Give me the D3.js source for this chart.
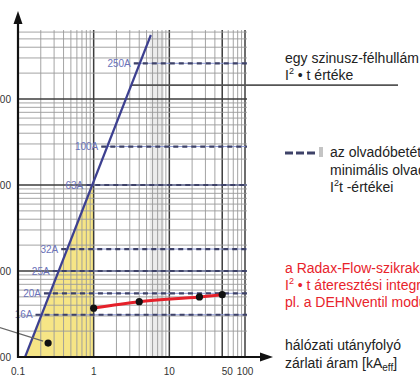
<!DOCTYPE html>
<html><head><meta charset="utf-8">
<script src="https://cdn.jsdelivr.net/npm/d3@7"></script>
<style>
body{margin:0;background:#fff}
svg{display:block}
text{font-family:"Liberation Sans",Arial,sans-serif}
</style>
</head><body>
<svg id="c" width="420" height="376"></svg>
<script>
// Fuse ratings and their minimum melting I²t values (A²s)
const fuseLabels = ["250A", "100A", "63A", "32A", "25A", "20A", "16A"];
const fuseI2t = [260000, 28000, 10000, 1800, 1000, 550, 310];

// I²t of one sine half-wave vs. prospective current (kA)
const sineCurrent = [0.124, 5.7];
const sineI2t = [100, 555000];
const sineLeaderI2t = 145000;

// Let-through integral of the Radax-Flow spark gap
const radaxCurrent = [1, 4, 25, 50];
const radaxI2t = [370, 440, 500, 530];

// Single marked point inside the shaded area
const markCurrent = [0.25];
const markI2t = [145];

// Axis ticks
const xTicks = [0.1, 1, 10, 50, 100];
const xTickLabels = ["0.1", "1", "10", "50", "100"];
const yTicks = [100, 1000, 10000, 100000];
const yTickLabels = ["100", "1000", "10000", "100000"];

const svg = d3.select("#c");
const x = d3.scaleLog().domain([0.1, 100]).range([18, 245]);
const y = d3.scaleLog().domain([100, 1e6]).range([357, 13]);
const gridTop = 600000;

// log-linear helpers along the half-wave line
const sLog = sineCurrent.map(Math.log10), vLog = sineI2t.map(Math.log10);
const sineAt = I => Math.pow(10, vLog[0] + (Math.log10(I) - sLog[0]) * (vLog[1] - vLog[0]) / (sLog[1] - sLog[0]));
const currentAt = v => Math.pow(10, sLog[0] + (Math.log10(v) - vLog[0]) * (sLog[1] - sLog[0]) / (vLog[1] - vLog[0]));

// light shaded column
svg.append("rect")
  .attr("x", x(5.5)).attr("y", y(gridTop))
  .attr("width", x(8.5) - x(5.5)).attr("height", y(100) - y(gridTop))
  .attr("fill", "#ececec");

// yellow area below the half-wave line up to 1 kA
svg.append("path")
  .attr("d", d3.line()([
    [x(sineCurrent[0]), y(100)],
    [x(1), y(sineAt(1))],
    [x(1), y(100)]
  ]) + "Z")
  .attr("fill", "#f6e586");

// grid
const vLines = [];
for (let e = -1; e <= 1; e++) for (let k = 1; k <= 9; k++) vLines.push(k * Math.pow(10, e));
vLines.push(100);
const vMajor = new Set([1, 10, 50, 100]);
const hLines = [];
for (let e = 2; e <= 5; e++) for (let k = 1; k <= 9; k++) {
  const v = k * Math.pow(10, e);
  if (v <= gridTop) hLines.push(v);
}
const g = svg.append("g");
g.selectAll(".vl").data(vLines.filter(v => v > 0.1)).join("line")
  .attr("x1", d => x(d)).attr("x2", d => x(d))
  .attr("y1", y(gridTop) - 2).attr("y2", y(100))
  .attr("stroke", d => vMajor.has(+d.toFixed(3)) ? "#3c3c3c" : "#9a9a9a")
  .attr("stroke-width", d => vMajor.has(+d.toFixed(3)) ? 1.5 : 0.9);
g.selectAll(".hl").data(hLines).join("line")
  .attr("x1", x(0.1)).attr("x2", x(100) + 2)
  .attr("y1", d => y(d)).attr("y2", d => y(d))
  .attr("stroke", d => yTicks.includes(d) ? "#3c3c3c" : "#9a9a9a")
  .attr("stroke-width", d => yTicks.includes(d) ? 1.5 : 0.9);

// leader from the half-wave legend to its line
svg.append("line")
  .attr("x1", x(currentAt(sineLeaderI2t))).attr("x2", 398)
  .attr("y1", y(sineLeaderI2t)).attr("y2", y(sineLeaderI2t))
  .attr("stroke", "#555").attr("stroke-width", 1.6);

// fuse levels: label + dashed line
const fuse = svg.append("g");
fuseLabels.forEach((lab, i) => {
  const yy = y(fuseI2t[i]);
  const xe = x(currentAt(fuseI2t[i])) - 9;
  fuse.append("text").attr("x", xe).attr("y", yy).attr("dy", "0.35em")
    .attr("text-anchor", "end").attr("font-size", 10)
    .attr("fill", "#6a72b8").text(lab);
  fuse.append("line").attr("x1", xe + 3).attr("x2", x(100) + 2)
    .attr("y1", yy).attr("y2", yy)
    .attr("stroke", "#8e9ad6").attr("stroke-width", 1);
  fuse.append("line").attr("x1", xe + 3).attr("x2", x(100) + 2)
    .attr("y1", yy).attr("y2", yy)
    .attr("stroke", "#3e4268").attr("stroke-width", 2.2)
    .attr("stroke-dasharray", "5 4");
});

// half-wave I²t line
svg.append("line")
  .attr("x1", x(sineCurrent[0])).attr("y1", y(sineI2t[0]))
  .attr("x2", x(sineCurrent[1])).attr("y2", y(sineI2t[1]))
  .attr("stroke", "#3d4090").attr("stroke-width", 2.2);

// Radax-Flow let-through curve
const radax = radaxCurrent.map((c, i) => [x(c), y(radaxI2t[i])]);
svg.append("path").attr("d", d3.line().curve(d3.curveMonotoneX)(radax))
  .attr("fill", "none").attr("stroke", "#e5202a").attr("stroke-width", 3);
svg.selectAll(".rd").data(radax).join("circle")
  .attr("cx", d => d[0]).attr("cy", d => d[1]).attr("r", 3.6).attr("fill", "#111");

// marked point with leader from the left edge
const mk = [x(markCurrent[0]), y(markI2t[0])];
svg.append("line").attr("x1", -2).attr("y1", mk[1] - 16).attr("x2", mk[0] - 5).attr("y2", mk[1] - 2)
  .attr("stroke", "#666").attr("stroke-width", 1.2);
svg.append("circle").attr("cx", mk[0]).attr("cy", mk[1]).attr("r", 3.6).attr("fill", "#111");

// axes with arrow heads
svg.append("line").attr("x1", x(0.1)).attr("x2", x(0.1)).attr("y1", y(100) + 1).attr("y2", 20)
  .attr("stroke", "#111").attr("stroke-width", 2.2);
svg.append("path").attr("d", `M${x(0.1)},11 L${x(0.1) - 4.5},24 L${x(0.1) + 4.5},24 Z`).attr("fill", "#111");
svg.append("line").attr("x1", x(0.1) - 1).attr("x2", 262).attr("y1", y(100)).attr("y2", y(100))
  .attr("stroke", "#111").attr("stroke-width", 2.2);
svg.append("path").attr("d", `M273,${y(100)} L260,${y(100) - 4.5} L260,${y(100) + 4.5} Z`).attr("fill", "#111");

// tick labels
svg.selectAll(".xt").data(xTicks).join("text")
  .attr("x", (d, i) => x(d) + (d === 50 ? 5 : 0)).attr("y", 375)
  .attr("text-anchor", "middle").attr("font-size", 10).attr("fill", "#333")
  .text((d, i) => xTickLabels[i]);
svg.selectAll(".yt").data(yTicks).join("text")
  .attr("x", 11).attr("y", d => y(d)).attr("dy", "0.35em")
  .attr("text-anchor", "end").attr("font-size", 10).attr("fill", "#333")
  .text((d, i) => yTickLabels[i]);

// legend texts
function lines(x0, y0, dy, color, rows) {
  rows.forEach((r, i) => {
    const t = svg.append("text").attr("x", x0).attr("y", y0 + i * dy)
      .attr("font-size", 14).attr("fill", color);
    r.forEach(p => {
      const s = t.append("tspan").text(p.t);
      if (p.sup) s.attr("dy", -6).attr("font-size", 9);
      if (p.sub) s.attr("dy", 3).attr("font-size", 10);
      if (p.back) s.attr("dy", p.back);
    });
  });
}
lines(285, 63, 17, "#222", [
  [{t: "egy szinusz-félhullám"}],
  [{t: "I"}, {t: "2", sup: true}, {t: " • t értéke", back: 6}]
]);
lines(330, 157, 17.5, "#222", [
  [{t: "az olvadóbetétek"}],
  [{t: "minimális olvadási"}],
  [{t: "I"}, {t: "2", sup: true}, {t: "t -értékei", back: 6}]
]);
lines(285, 273, 16.8, "#e8232b", [
  [{t: "a Radax-Flow-szikraközök"}],
  [{t: "I"}, {t: "2", sup: true}, {t: " • t áteresztési integrálja"}].map((p, i) => i === 2 ? {t: p.t, back: 6} : p),
  [{t: "pl. a DEHNventil modular"}]
]);
lines(285, 350, 18, "#222", [
  [{t: "hálózati utányfolyó"}],
  [{t: "zárlati áram [kA"}, {t: "eff", sub: true}, {t: "]", back: -3}]
]);

// legend dash sample
const lg = svg.append("g");
[0, 1, 2].forEach(i => lg.append("rect").attr("x", 285 + i * 11).attr("y", 151.5)
  .attr("width", 8).attr("height", 3).attr("fill", "#3e4268"));
lg.append("rect").attr("x", 319).attr("y", 147).attr("width", 4).attr("height", 10).attr("fill", "#c4c4c4");
</script>
</body></html>
